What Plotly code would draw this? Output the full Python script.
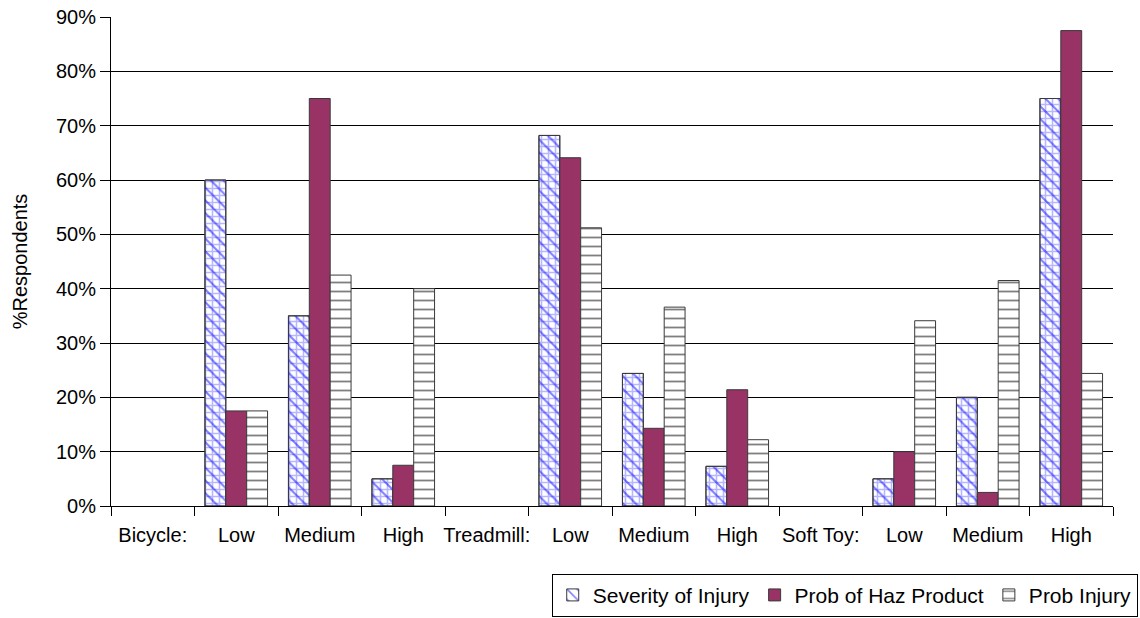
import plotly.graph_objects as go

# Category labels along the x axis (product headers followed by risk levels)
categories = ["Bicycle:", "Low", "Medium", "High",
              "Treadmill:", "Low", "Medium", "High",
              "Soft Toy:", "Low", "Medium", "High"]

# Percent of respondents per category
severity_of_injury = [None, 60, 35, 5, None, 68.2, 24.4, 7.3, None, 5, 20, 75]
prob_haz_product = [None, 17.5, 75, 7.5, None, 64.1, 14.3, 21.4, None, 10, 2.5, 87.5]
prob_injury = [None, 17.5, 42.5, 40, None, 51.2, 36.6, 12.2, None, 34.1, 41.5, 24.4]

y_ticks = [0, 10, 20, 30, 40, 50, 60, 70, 80, 90]
y_tick_labels = [f"{v}%" for v in y_ticks]

x = list(range(len(categories)))
FONT = "Liberation Sans, Arial, sans-serif"
FS = 20
BAR_W = 0.25
OUTLINE = dict(color="#3a3a3a", width=1)

fig = go.Figure()

# Severity of injury: light blue grid underneath, blue diagonals on top
fig.add_trace(go.Bar(
    x=x, y=severity_of_injury, width=BAR_W, offset=-0.375,
    name="Severity of Injury", showlegend=False,
    marker=dict(color="white", line=OUTLINE,
                pattern=dict(shape="+", size=7, solidity=0.4,
                             fgcolor="#6f6fff", bgcolor="white")),
))
fig.add_trace(go.Bar(
    x=x, y=severity_of_injury, width=BAR_W, offset=-0.375,
    name="Severity of Injury",
    marker=dict(color="rgba(0,0,0,0)", line=OUTLINE,
                pattern=dict(shape="\\", size=9, solidity=0.22,
                             fgcolor="#0000ff", bgcolor="rgba(0,0,0,0)")),
))
fig.add_trace(go.Bar(
    x=x, y=prob_haz_product, width=BAR_W, offset=-0.125,
    name="Prob of Haz Product",
    marker=dict(color="#993366", line=OUTLINE),
))
fig.add_trace(go.Bar(
    x=x, y=prob_injury, width=BAR_W, offset=0.125,
    name="Prob Injury",
    marker=dict(color="white", line=OUTLINE,
                pattern=dict(shape="-", size=9, solidity=0.2,
                             fgcolor="black", bgcolor="white")),
))

fig.update_layout(
    width=1140, height=618,
    margin=dict(l=111, r=27, t=17, b=112, autoexpand=False),
    barmode="overlay",
    plot_bgcolor="white", paper_bgcolor="white",
    font=dict(family=FONT, size=FS, color="black"),
    showlegend=True,
    legend=dict(
        orientation="h",
        xref="container", x=0.998, xanchor="right",
        yref="container", y=0.002, yanchor="bottom",
        bordercolor="black", borderwidth=1,
        bgcolor="white",
        font=dict(family=FONT, size=21, color="black"),
        itemwidth=30,
        tracegroupgap=0,
    ),
)

fig.update_xaxes(
    range=[-0.5, 11.5],
    tickmode="array", tickvals=x, ticktext=categories,
    ticks="outside", ticklen=11, tickcolor="rgba(0,0,0,0)",
    showline=True, linecolor="black", linewidth=1,
    showgrid=False, zeroline=False,
    minor=dict(tickmode="linear", tick0=-0.5, dtick=1,
               ticks="outside", ticklen=9, tickcolor="black", showgrid=False),
    tickfont=dict(family=FONT, size=FS),
)

fig.update_yaxes(
    range=[0, 90],
    tickmode="array", tickvals=y_ticks, ticktext=y_tick_labels,
    ticks="outside", ticklen=10, tickcolor="black",
    showline=True, linecolor="black", linewidth=1,
    showgrid=True, gridcolor="black", gridwidth=1,
    zeroline=False,
    tickfont=dict(family=FONT, size=FS),
    title=dict(text="%Respondents", font=dict(family=FONT, size=FS), standoff=22),
)

fig.write_html("out.html")
